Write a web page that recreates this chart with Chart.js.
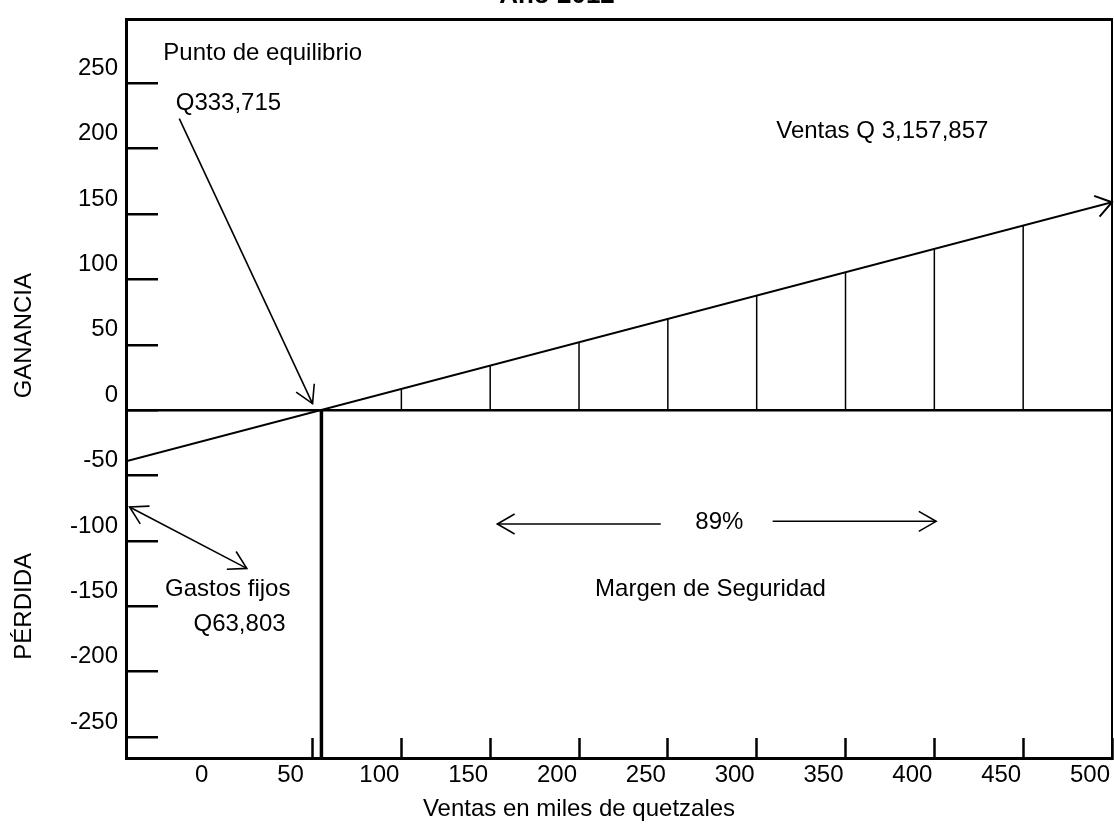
<!DOCTYPE html>
<html>
<head>
<meta charset="utf-8">
<title>Punto de equilibrio - Año 2012</title>
<script src="https://cdn.jsdelivr.net/npm/chart.js@4.4.0/dist/chart.umd.min.js"></script>
<style>
  html, body { margin: 0; padding: 0; background: #fff; overflow: hidden; }
  #wrap { width: 1114px; height: 829px; overflow: hidden; }
  canvas { display: block; margin-top: -28px; }
</style>
</head>
<body>
<div id="wrap"><canvas id="grafica" width="1114" height="857"></canvas></div>
<script>
// ejes (miles de quetzales)
const xTicks = [0, 50, 100, 150, 200, 250, 300, 350, 400, 450, 500];
const xTickLabels = ['0', '50', '100', '150', '200', '250', '300', '350', '400', '450', '500'];
const yTicks = [-250, -200, -150, -100, -50, 0, 50, 100, 150, 200, 250];
const yTickLabels = ['-250', '-200', '-150', '-100', '-50', '0', '50', '100', '150', '200', '250'];

// linea de ventas / ganancia
const ventasX = [-55, 500];
const ventasY = [-39, 159];

// punto de equilibrio
const equilibrioX = [55, 55];
const equilibrioY = [0, -266];

// lineas del margen de seguridad (desde 0 hasta la linea de ventas)
const margenX = [100, 150, 200, 250, 300, 350, 400, 450];
const margenY = [16, 34, 52, 70, 88, 105, 123, 141];

const FONT = "'Liberation Sans', Arial, sans-serif";
Chart.defaults.font.family = FONT;
Chart.defaults.font.size = 24;
Chart.defaults.color = '#000';

const margenPts = [];
margenX.forEach((x, i) => {
  margenPts.push({x: x, y: 0}, {x: x, y: margenY[i]}, {x: x, y: null});
});

// textos y flechas del grafico, en unidades de los ejes
const notas = [
  {text: 'Punto de equilibrio', x: -34, y: 273, align: 'left'},
  {text: 'Q333,715', x: -27, y: 235, align: 'left'},
  {text: 'Ventas Q 3,157,857', x: 311, y: 213, align: 'left'},
  {text: '89%', x: 279, y: -86, align: 'center'},
  {text: 'Margen de Seguridad', x: 274, y: -137, align: 'center'},
  {text: 'Gastos fijos', x: -33, y: -137, align: 'left'},
  {text: 'Q63,803', x: -17, y: -164, align: 'left'}
];
const flechas = [
  {from: [-25, 223], to: [50, 5], both: false},
  {from: [246, -87], to: [154, -87], both: false},
  {from: [309, -85], to: [401, -85], both: false},
  {from: [13, -121], to: [-53, -74], both: true}
];

function punta(ctx, x1, y1, x2, y2, len, ang) {
  const a = Math.atan2(y2 - y1, x2 - x1);
  ctx.beginPath();
  ctx.moveTo(x2 - len * Math.cos(a - ang), y2 - len * Math.sin(a - ang));
  ctx.lineTo(x2, y2);
  ctx.lineTo(x2 - len * Math.cos(a + ang), y2 - len * Math.sin(a + ang));
  ctx.stroke();
}

// sin relleno automatico alrededor del area del grafico
function sinPadding(s) {
  s.paddingLeft = 0;
  s.paddingRight = 0;
  s.paddingTop = 0;
  s.paddingBottom = 0;
}

const anotaciones = {
  id: 'anotaciones',
  afterDraw(chart) {
    const ctx = chart.ctx;
    const sx = chart.scales.x, sy = chart.scales.y;
    const px = v => sx.getPixelForValue(v);
    const py = v => sy.getPixelForValue(v);
    ctx.save();
    ctx.fillStyle = '#000';
    ctx.strokeStyle = '#000';
    ctx.font = '24px ' + FONT;
    ctx.textBaseline = 'middle';
    notas.forEach(n => {
      ctx.textAlign = n.align;
      ctx.fillText(n.text, px(n.x), py(n.y));
    });

    ctx.lineWidth = 1.6;
    flechas.forEach(f => {
      const x1 = px(f.from[0]), y1 = py(f.from[1]);
      const x2 = px(f.to[0]), y2 = py(f.to[1]);
      ctx.beginPath();
      ctx.moveTo(x1, y1);
      ctx.lineTo(x2, y2);
      ctx.stroke();
      punta(ctx, x1, y1, x2, y2, 20, Math.PI / 6);
      if (f.both) punta(ctx, x2, y2, x1, y1, 20, Math.PI / 6);
    });

    // punta de flecha al final de la linea de ventas
    const pts = chart.getDatasetMeta(0).data;
    ctx.lineWidth = 2;
    punta(ctx, pts[0].x, pts[0].y, pts[1].x, pts[1].y, 19, 0.6);

    // titulos laterales
    ctx.textAlign = 'center';
    [['GANANCIA', 57], ['PÉRDIDA', -150]].forEach(t => {
      ctx.save();
      ctx.translate(sy.left + 24, py(t[1]));
      ctx.rotate(-Math.PI / 2);
      ctx.fillText(t[0], 0, 0);
      ctx.restore();
    });
    ctx.restore();
  }
};

new Chart(document.getElementById('grafica'), {
  type: 'line',
  data: {
    datasets: [
      {
        label: 'Ventas',
        data: ventasX.map((x, i) => ({x: x, y: ventasY[i]})),
        borderColor: '#000',
        borderWidth: 2,
        pointRadius: 0
      },
      {
        label: 'Margen de Seguridad',
        data: margenPts,
        borderColor: '#000',
        borderWidth: 1.5,
        pointRadius: 0,
        spanGaps: false
      },
      {
        label: 'Punto de equilibrio',
        data: equilibrioX.map((x, i) => ({x: x, y: equilibrioY[i]})),
        borderColor: '#000',
        borderWidth: 3.5,
        pointRadius: 0
      }
    ]
  },
  options: {
    responsive: false,
    animation: false,
    layout: {padding: 0, autoPadding: false},
    plugins: {
      legend: {display: false},
      tooltip: {enabled: false},
      title: {
        display: true,
        text: 'Año 2012',
        font: {size: 26, weight: 'bold'},
        padding: {top: 8, bottom: 8}
      }
    },
    scales: {
      x: {
        type: 'linear',
        position: 'bottom',
        min: -55,
        max: 500,
        bounds: 'data',
        afterBuildTicks: s => { s.ticks = xTicks.map(v => ({value: v})); },
        afterFit: s => { s.height = 71; sinPadding(s); },
        ticks: {
          autoSkip: false,
          maxRotation: 0,
          padding: 23,
          labelOffset: -22,
          callback: (v, i) => xTickLabels[i]
        },
        grid: {
          drawOnChartArea: false,
          tickLength: -20,
          tickWidth: 2.5,
          tickColor: c => (c.tick && c.tick.value === 0) ? 'rgba(0,0,0,0)' : '#000'
        },
        border: {display: true, color: '#000', width: 3},
        title: {
          display: true,
          text: 'Ventas en miles de quetzales' + ' '.repeat(12),
          font: {size: 24},
          padding: {top: 0, bottom: 5}
        }
      },
      y: {
        type: 'linear',
        position: 'left',
        min: -266,
        max: 299,
        bounds: 'data',
        afterBuildTicks: s => { s.ticks = yTicks.map(v => ({value: v})); },
        afterFit: s => { s.width = 126; sinPadding(s); },
        ticks: {
          autoSkip: false,
          padding: 40,
          labelOffset: -15,
          callback: (v, i) => yTickLabels[i]
        },
        grid: {
          drawOnChartArea: true,
          color: c => (c.tick && c.tick.value === 0) ? '#000' : 'rgba(0,0,0,0)',
          lineWidth: 2.5,
          tickLength: -32,
          tickWidth: 2.5,
          tickColor: '#000'
        },
        border: {display: true, color: '#000', width: 3}
      },
      x2: {
        type: 'linear',
        position: 'top',
        display: true,
        ticks: {display: false},
        grid: {display: false, drawTicks: false},
        border: {display: true, color: '#000', width: 3},
        afterFit: s => { s.height = 0; sinPadding(s); }
      },
      y2: {
        type: 'linear',
        position: 'right',
        display: true,
        ticks: {display: false},
        grid: {display: false, drawTicks: false},
        border: {display: true, color: '#000', width: 2},
        afterFit: s => { s.width = 2; sinPadding(s); }
      }
    }
  },
  plugins: [anotaciones]
});
</script>
</body>
</html>
